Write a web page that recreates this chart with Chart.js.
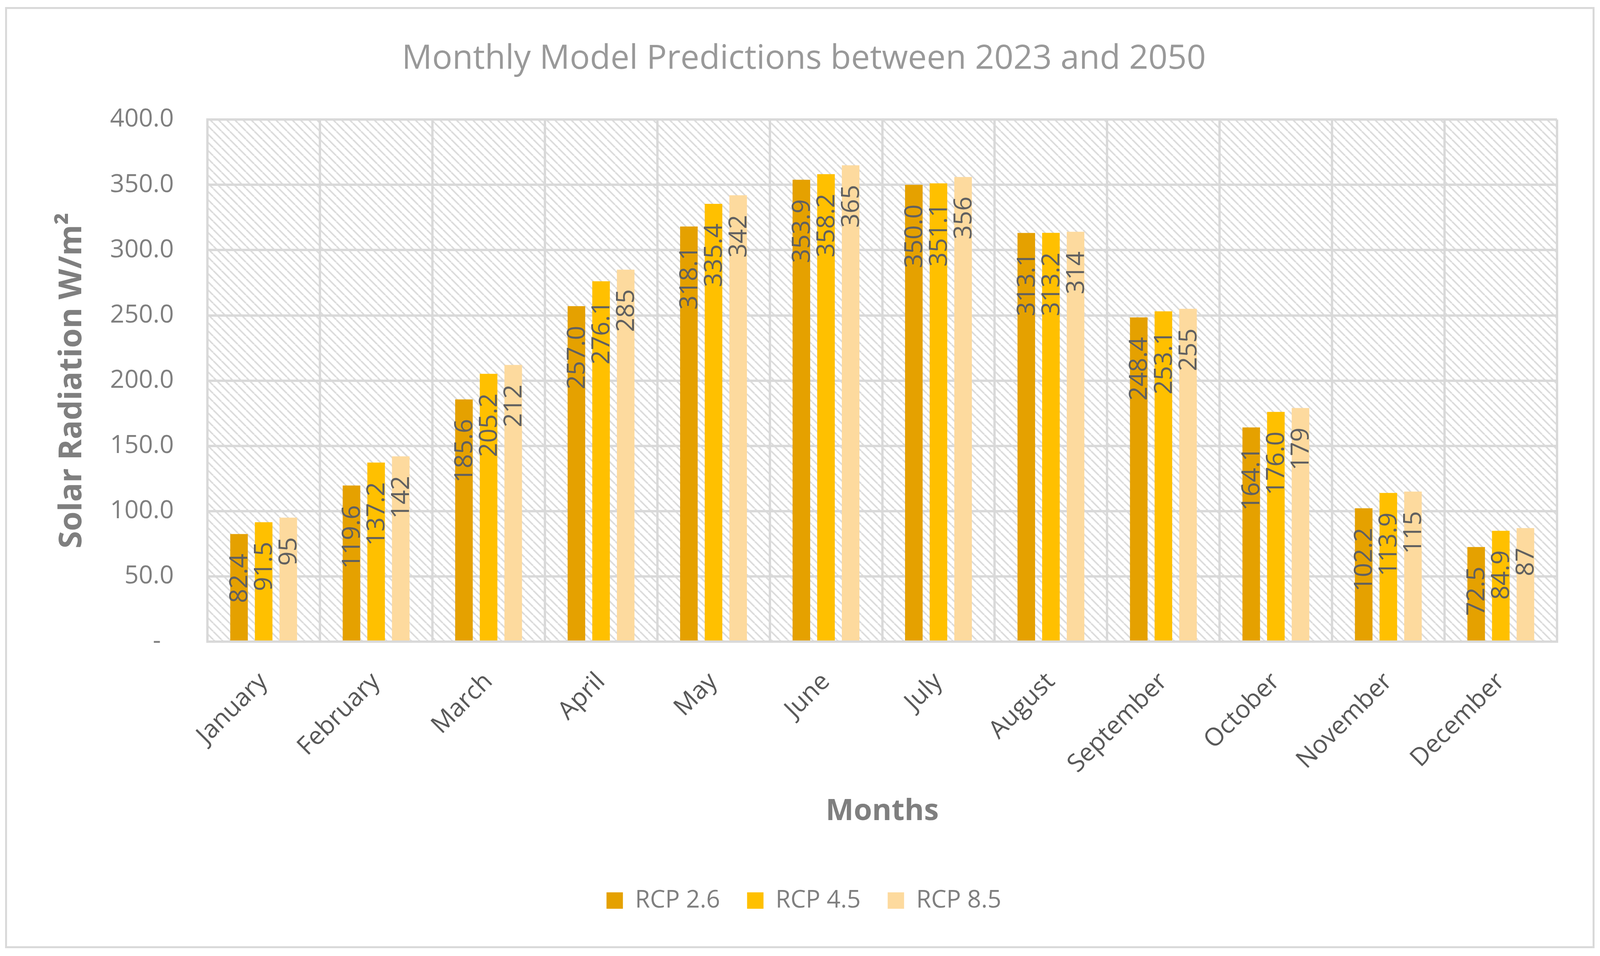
<!DOCTYPE html>
<html>
<head>
<meta charset="utf-8">
<title>Monthly Model Predictions between 2023 and 2050</title>
<script src="https://cdn.jsdelivr.net/npm/chart.js@4.4.1/dist/chart.umd.min.js"></script>
<style>
  html, body { margin: 0; padding: 0; background: #fff; }
  #wrap { width: 4102px; height: 2448px; }
</style>
</head>
<body>
<div id="wrap"><canvas id="solarChart" width="4102" height="2448"></canvas></div>
<script>
// data
const months = ['January', 'February', 'March', 'April', 'May', 'June',
                'July', 'August', 'September', 'October', 'November', 'December'];
const rcp26 = [82.4, 119.6, 185.6, 257.0, 318.1, 353.9, 350.0, 313.1, 248.4, 164.1, 102.2, 72.5];
const rcp45 = [91.5, 137.2, 205.2, 276.1, 335.4, 358.2, 351.1, 313.2, 253.1, 176.0, 113.9, 84.9];
const rcp85 = [95, 142, 212, 285, 342, 365, 356, 314, 255, 179, 115, 87];
const seriesNames = ['RCP 2.6', 'RCP 4.5', 'RCP 8.5'];
const seriesColors = ['#E5A100', '#FFC000', '#FDDA9E'];
// RCP 8.5 labels are shown without decimals
const labelDecimals = [1, 1, 0];

Chart.defaults.font.family = '"Open Sans", sans-serif';

// diagonal hatch for the plot background
const tile = document.createElement('canvas');
tile.width = tile.height = 21;
const tc = tile.getContext('2d');
tc.strokeStyle = '#dcdcdc';
tc.lineWidth = 4;
tc.beginPath();
for (const o of [-21, 0, 21]) { tc.moveTo(o, 0); tc.lineTo(o + 21, 21); }
tc.stroke();

const background = {
    id: 'background',
    beforeDraw(chart) {
        const ctx = chart.ctx, a = chart.chartArea;
        ctx.save();
        ctx.fillStyle = '#fff';
        ctx.fillRect(0, 0, chart.width, chart.height);
        ctx.fillStyle = ctx.createPattern(tile, 'repeat');
        ctx.fillRect(a.left, a.top, a.right - a.left, a.bottom - a.top);
        // outer chart frame
        ctx.strokeStyle = '#d9d9d9';
        ctx.lineWidth = 5;
        ctx.strokeRect(15.5, 20.5, 4064, 2405);
        ctx.restore();
    }
};

// vertical value labels just below the top of each bar
const barLabels = {
    id: 'barLabels',
    afterDatasetsDraw(chart) {
        const ctx = chart.ctx;
        ctx.save();
        ctx.font = '64px "Open Sans"';
        ctx.fillStyle = '#606060';
        ctx.textAlign = 'right';
        ctx.textBaseline = 'middle';
        chart.data.datasets.forEach((ds, i) => {
            chart.getDatasetMeta(i).data.forEach((bar, j) => {
                ctx.save();
                ctx.translate(bar.x + 3, bar.y + 50);
                ctx.rotate(-Math.PI / 2);
                ctx.fillText(ds.data[j].toFixed(labelDecimals[i]), 0, 0);
                ctx.restore();
            });
        });
        ctx.restore();
    }
};

const ctx = document.getElementById('solarChart').getContext('2d');
const chart = new Chart(ctx, {
    type: 'bar',
    data: {
        labels: months,
        datasets: [rcp26, rcp45, rcp85].map((d, i) => ({
            label: seriesNames[i],
            data: d,
            backgroundColor: seriesColors[i],
            borderWidth: 0,
            categoryPercentage: 0.657,
            barPercentage: 0.714
        }))
    },
    options: {
        responsive: false,
        devicePixelRatio: 1,
        animation: false,
        layout: { padding: { left: 130, right: 116, top: 0, bottom: 101 } },
        plugins: {
            title: {
                display: true,
                text: 'Monthly Model Predictions between 2023 and 2050',
                color: '#999999',
                font: { size: 86, weight: 'normal' },
                padding: { top: 100, bottom: 103 }
            },
            legend: {
                position: 'bottom',
                labels: {
                    boxWidth: 42,
                    boxHeight: 42,
                    padding: 69,
                    color: '#7f7f7f',
                    font: { size: 62 }
                }
            },
            tooltip: { enabled: false }
        },
        scales: {
            x: {
                grid: { color: '#d9d9d9', lineWidth: 6, drawTicks: false, offset: true },
                border: { color: '#d9d9d9', width: 6 },
                ticks: {
                    color: '#595959',
                    font: { size: 64 },
                    minRotation: 45,
                    maxRotation: 45,
                    autoSkip: false,
                    padding: 65
                },
                title: {
                    display: true,
                    text: 'Months',
                    color: '#7f7f7f',
                    font: { size: 76, weight: 'bold' },
                    padding: { top: 0, bottom: 82 }
                },
                afterFit(s) { s.height = 563; }
            },
            y: {
                min: 0,
                max: 400,
                ticks: {
                    stepSize: 50,
                    color: '#7f7f7f',
                    font: { size: 64 },
                    padding: 86,
                    callback: v => v === 0 ? '-  ' : v.toFixed(1)
                },
                grid: { color: '#d9d9d9', lineWidth: 6, drawTicks: false },
                border: { color: '#d9d9d9', width: 6 },
                title: {
                    display: true,
                    text: 'Solar Radiation W/m²',
                    color: '#7f7f7f',
                    font: { size: 81, weight: 'bold' },
                    padding: { top: 6, bottom: 0 }
                },
                afterFit(s) { s.width = 401; }
            }
        }
    },
    plugins: [background, barLabels]
});
</script>
</body>
</html>
